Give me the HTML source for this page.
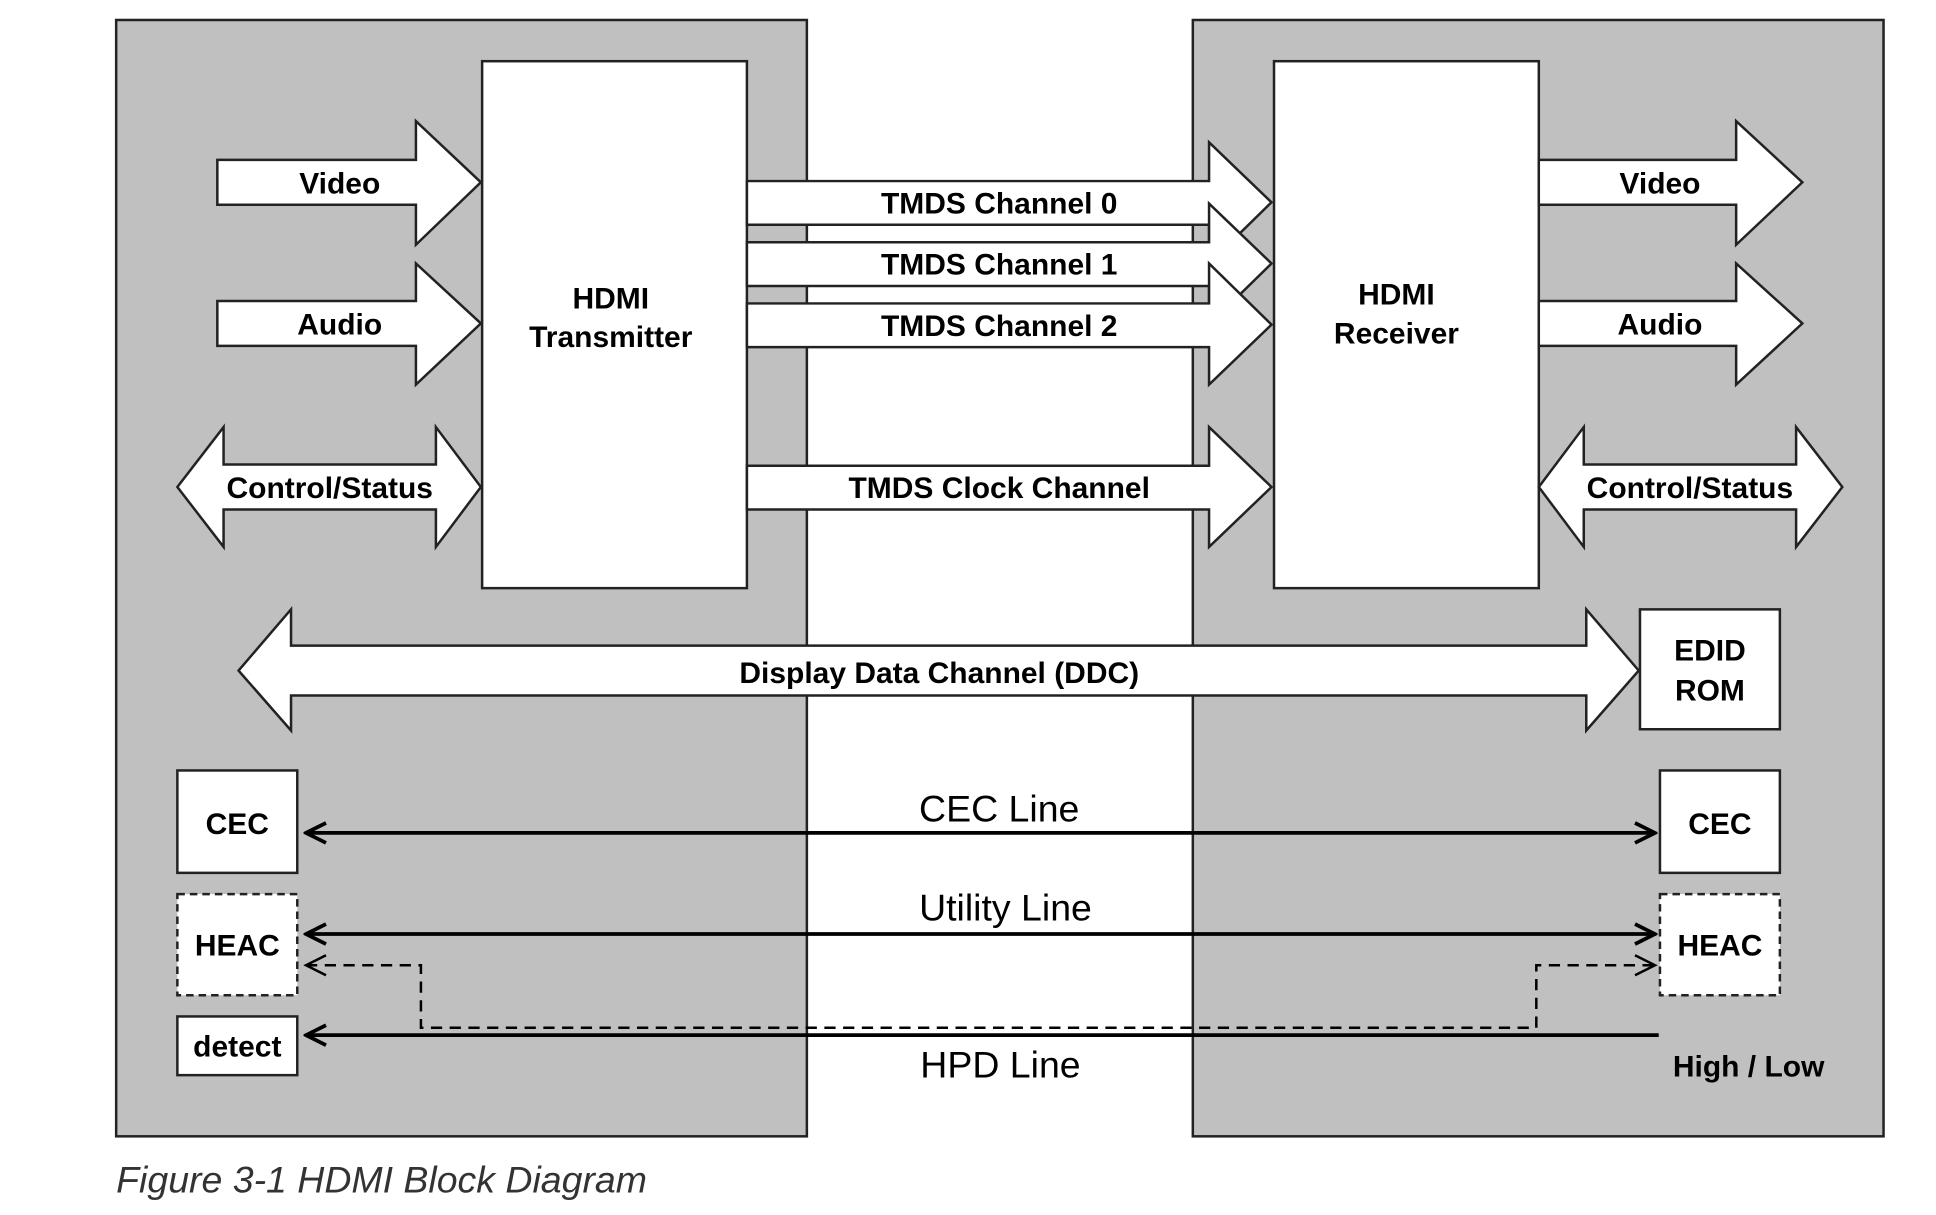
<!DOCTYPE html>
<html><head><meta charset="utf-8"><style>
html,body{margin:0;padding:0;background:#fff;}
svg{display:block;}
text{font-family:"Liberation Sans",Arial,sans-serif;}
.b{font-weight:bold;font-size:24px;fill:#000;}
.n{font-size:30px;fill:#000;}
</style></head><body>
<svg width="1936" height="1215" viewBox="0 0 1550 973" preserveAspectRatio="none" xmlns="http://www.w3.org/2000/svg">
<defs>
<marker id="ah" viewBox="0 0 20 20" refX="18" refY="10" markerWidth="20" markerHeight="20" markerUnits="userSpaceOnUse" orient="auto-start-reverse">
<path d="M2,2 L18,10 L2,18" fill="none" stroke="#000" stroke-width="3"/></marker>
<marker id="ahd" viewBox="0 0 20 20" refX="18" refY="10" markerWidth="20" markerHeight="20" markerUnits="userSpaceOnUse" orient="auto-start-reverse">
<path d="M2,2 L18,10 L2,18" fill="none" stroke="#000" stroke-width="2"/></marker>
</defs>
<rect width="1550" height="973" fill="#fff"/>
<rect x="93" y="16" width="553" height="894" fill="#c0c0c0" stroke="#222" stroke-width="2"/>
<rect x="955" y="16" width="553" height="894" fill="#c0c0c0" stroke="#222" stroke-width="2"/>
<g fill="#fff" stroke="#222" stroke-width="2">
<rect x="386" y="49" width="212" height="422"/>
<rect x="1020" y="49" width="212" height="422"/>
<path d="M174,128 H333 V97 L385,146 L333,196 V164 H174 Z"/>
<path d="M174,241 H333 V211 L385,259 L333,308 V277 H174 Z"/>
<path d="M142,390 L179,342 V372 H349 V342 L385,390 L349,438 V408 H179 V438 Z"/>
<path d="M598,145 H968 V114 L1018,162 L968,211 V180 H598 Z"/>
<path d="M598,194 H968 V163 L1018,211 L968,260 V229 H598 Z"/>
<path d="M598,243 H968 V211 L1018,260 L968,308 V278 H598 Z"/>
<path d="M598,373 H968 V342 L1018,390 L968,438 V408 H598 Z"/>
<path d="M1232,128 H1390 V97 L1443,146 L1390,196 V164 H1232 Z"/>
<path d="M1232,241 H1390 V211 L1443,259 L1390,308 V277 H1232 Z"/>
<path d="M1232,390 L1268,342 V372 H1438 V342 L1475,390 L1438,438 V408 H1268 V438 Z"/>
<path d="M191,537 L233,488 V517 H1270 V488 L1312,537 L1270,585 V557 H233 V585 Z"/>
<rect x="1313" y="488" width="112" height="96"/>
<rect x="142" y="617" width="96" height="82"/>
<rect x="1329" y="617" width="96" height="82"/>
<rect x="142" y="814" width="96" height="47"/>
</g>
<g fill="#fff" stroke="#222" stroke-width="2" stroke-dasharray="6,4">
<rect x="142" y="716" width="96" height="81"/>
<rect x="1329" y="716" width="96" height="81"/>
</g>
<g stroke="#000" stroke-width="3" fill="none">
<line x1="245" y1="667" x2="1325" y2="667" marker-start="url(#ah)" marker-end="url(#ah)"/>
<line x1="245" y1="748" x2="1325" y2="748" marker-start="url(#ah)" marker-end="url(#ah)"/>
<line x1="1328" y1="829" x2="245" y2="829" marker-end="url(#ah)"/>
</g>
<path d="M245,773 H337 V823 H1230 V773 H1325" fill="none" stroke="#000" stroke-width="2" stroke-dasharray="9,6" marker-start="url(#ahd)" marker-end="url(#ahd)"/>
<g class="b" text-anchor="middle">
<text x="272" y="155">Video</text>
<text x="272" y="268">Audio</text>
<text x="264" y="399">Control/Status</text>
<text x="489" y="247">HDMI</text>
<text x="489" y="278">Transmitter</text>
<text x="1118" y="244">HDMI</text>
<text x="1118" y="275">Receiver</text>
<text x="800" y="171">TMDS Channel 0</text>
<text x="800" y="220">TMDS Channel 1</text>
<text x="800" y="269">TMDS Channel 2</text>
<text x="800" y="399">TMDS Clock Channel</text>
<text x="1329" y="155">Video</text>
<text x="1329" y="268">Audio</text>
<text x="1353" y="399">Control/Status</text>
<text x="752" y="547">Display Data Channel (DDC)</text>
<text x="1369" y="529">EDID</text>
<text x="1369" y="561">ROM</text>
<text x="190" y="668">CEC</text>
<text x="1377" y="668">CEC</text>
<text x="190" y="765">HEAC</text>
<text x="1377" y="765">HEAC</text>
<text x="190" y="846">detect</text>
<text x="1400" y="862">High / Low</text>
</g>
<g class="n" text-anchor="middle">
<text x="800" y="658">CEC Line</text>
<text x="805" y="737">Utility Line</text>
<text x="801" y="863">HPD Line</text>
</g>
<text x="93" y="955" font-size="30" font-style="italic" fill="#333">Figure 3-1 HDMI Block Diagram</text>
</svg>
</body></html>
